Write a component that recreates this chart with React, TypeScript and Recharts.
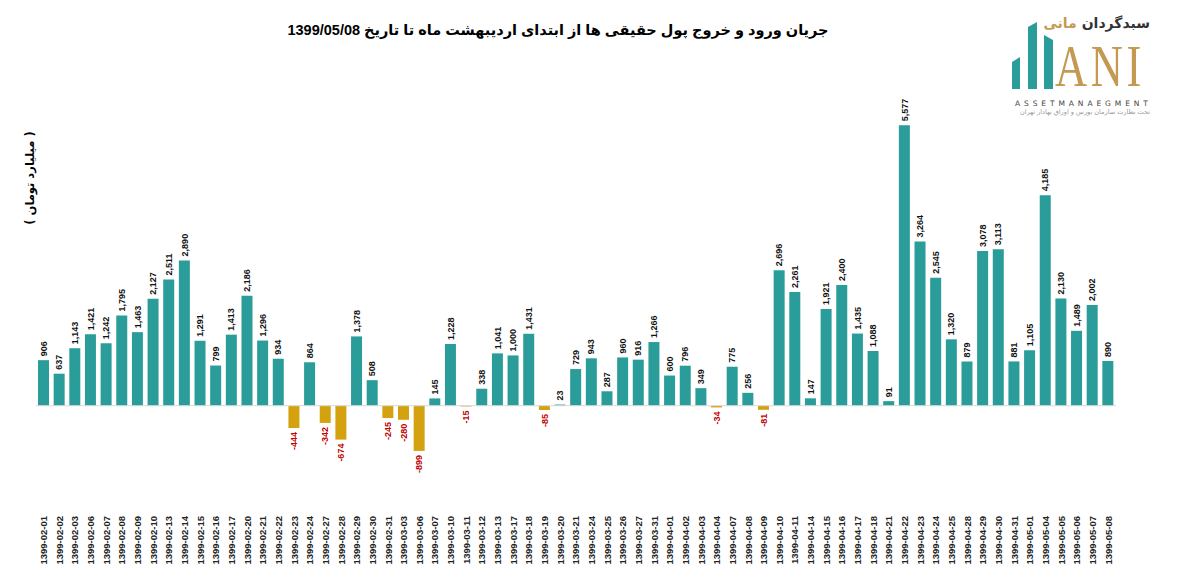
import { BarChart, Bar, XAxis, YAxis, Cell, LabelList, ReferenceLine } from 'recharts';

const dates = [
  '1399-02-01', '1399-02-02', '1399-02-03', '1399-02-06', '1399-02-07', '1399-02-08', '1399-02-09', '1399-02-10',
  '1399-02-13', '1399-02-14', '1399-02-15', '1399-02-16', '1399-02-17', '1399-02-20', '1399-02-21', '1399-02-22',
  '1399-02-23', '1399-02-24', '1399-02-27', '1399-02-28', '1399-02-29', '1399-02-30', '1399-02-31', '1399-03-03',
  '1399-03-06', '1399-03-07', '1399-03-10', '1399-03-11', '1399-03-12', '1399-03-13', '1399-03-17', '1399-03-18',
  '1399-03-19', '1399-03-20', '1399-03-21', '1399-03-24', '1399-03-25', '1399-03-26', '1399-03-27', '1399-03-31',
  '1399-04-01', '1399-04-02', '1399-04-03', '1399-04-04', '1399-04-07', '1399-04-08', '1399-04-09', '1399-04-10',
  '1399-04-11', '1399-04-14', '1399-04-15', '1399-04-16', '1399-04-17', '1399-04-18', '1399-04-21', '1399-04-22',
  '1399-04-23', '1399-04-24', '1399-04-25', '1399-04-28', '1399-04-29', '1399-04-30', '1399-04-31', '1399-05-01',
  '1399-05-04', '1399-05-05', '1399-05-06', '1399-05-07', '1399-05-08',
];

// net flow of individual money, billion toman
const flows = [
  906, 637, 1143, 1421, 1242, 1795, 1463, 2127,
  2511, 2890, 1291, 799, 1413, 2186, 1296, 934,
  -444, 864, -342, -674, 1378, 508, -245, -280,
  -899, 145, 1228, -15, 338, 1041, 1000, 1431,
  -85, 23, 729, 943, 287, 960, 916, 1266,
  600, 796, 349, -34, 775, 256, -81, 2696,
  2261, 147, 1921, 2400, 1435, 1088, 91, 5577,
  3264, 2545, 1320, 879, 3078, 3113, 881, 1105,
  4185, 2130, 1489, 2002, 890,
];

const TITLE = 'جریان ورود و خروج پول حقیقی ها از ابتدای اردیبهشت ماه تا تاریخ 1399/05/08';
const Y_LABEL = '( میلیارد تومان )';

const TEAL = '#2a9d9a';
const GOLD = '#d4a20f';
const RED = '#c00000';
const LOGO_GOLD = '#c49a52';

const data = dates.map((d, i) => ({ date: d, value: flows[i] }));

function DateTick(props: any) {
  const { x, y, payload } = props;
  return (
    <g transform={`translate(${x},${y + 52})`}>
      <text
        transform="rotate(-90)"
        textAnchor="end"
        dy="0.35em"
        fontSize={9.5}
        fontWeight="bold"
        fill="#222"
        fontFamily="'Liberation Sans', Arial, sans-serif"
      >
        {payload.value}
      </text>
    </g>
  );
}

function ValueLabel(props: any) {
  const x = Number(props.x);
  const y = Number(props.y);
  const w = Number(props.width);
  const h = Number(props.height);
  const v = Number(props.value);
  const cx = x + w / 2;
  const top = Math.min(y, y + h);
  const bottom = Math.max(y, y + h);
  const neg = v < 0;
  return (
    <g transform={`translate(${cx},${neg ? bottom + 4 : top - 4})`}>
      <text
        transform="rotate(-90)"
        textAnchor={neg ? 'end' : 'start'}
        dy="0.35em"
        fontSize={9}
        fontWeight="bold"
        fill={neg ? RED : '#111'}
        fontFamily="'Liberation Sans', Arial, sans-serif"
      >
        {v.toLocaleString('en-US')}
      </text>
    </g>
  );
}

function Logo() {
  const bar = (left: number, top: number, width: number, height: number, clip: string) => (
    <div style={{ position: 'absolute', left, top, width, height, background: TEAL, clipPath: clip }} />
  );
  return (
    <>
      {bar(1004, 49, 8, 32, 'polygon(0 5px, 100% 0, 100% 100%, 0 100%)')}
      {bar(1020, 14, 9, 67, 'polygon(0 5px, 100% 0, 100% 100%, 0 100%)')}
      {bar(1036, 27, 9, 54, 'polygon(0 0, 100% 5px, 100% 100%, 0 100%)')}
      <div
        style={{
          position: 'absolute', left: 1035, top: 7, width: 107, textAlign: 'right', direction: 'rtl',
          fontFamily: "'DejaVu Sans', sans-serif", fontSize: 14, lineHeight: '17px', fontWeight: 'bold',
          color: '#333', whiteSpace: 'nowrap',
        }}
      >
        سبدگردان <span style={{ color: LOGO_GOLD }}>مانی</span>
      </div>
      <div
        style={{
          position: 'absolute', left: 1047, top: 28, fontFamily: "'Liberation Serif', serif", fontSize: 60,
          lineHeight: '60px', color: LOGO_GOLD, letterSpacing: 5, whiteSpace: 'nowrap',
          transform: 'scaleX(0.74)', transformOrigin: 'left top',
        }}
      >
        ANI
      </div>
      <div
        style={{
          position: 'absolute', left: 1007, top: 91, fontFamily: "'DejaVu Sans', sans-serif", fontSize: 7.5,
          lineHeight: '9px', letterSpacing: 3.9, color: '#444', whiteSpace: 'nowrap',
        }}
      >
        ASSETMANAEGMENT
      </div>
      <div
        style={{
          position: 'absolute', left: 1004, top: 100, width: 138, textAlign: 'right', direction: 'rtl',
          fontFamily: "'DejaVu Sans', sans-serif", fontSize: 6.5, lineHeight: '8px', color: '#999',
          whiteSpace: 'nowrap',
        }}
      >
        تحت نظارت سازمان بورس و اوراق بهادار تهران
      </div>
    </>
  );
}

export default function App() {
  return (
    <div style={{ position: 'relative', width: 1163, height: 570, background: '#fff' }}>
      <BarChart
        width={1163}
        height={570}
        data={data}
        margin={{ top: 96, right: 55, bottom: 12, left: 28 }}
        barSize={11}
      >
        <YAxis hide domain={[-1000, 6000]} />
        <XAxis
          dataKey="date"
          interval={0}
          axisLine={false}
          tickLine={false}
          height={110}
          tick={<DateTick />}
        />
        <ReferenceLine y={0} stroke="#d9d9d9" strokeWidth={1} />
        <Bar dataKey="value" isAnimationActive={false}>
          {data.map((d) => (
            <Cell key={d.date} fill={d.value < 0 ? GOLD : TEAL} />
          ))}
          <LabelList dataKey="value" content={<ValueLabel />} />
        </Bar>
      </BarChart>
      <div
        style={{
          position: 'absolute', left: 0, width: 1100, top: 14, textAlign: 'center', direction: 'rtl',
          fontFamily: "'Liberation Sans', 'DejaVu Sans', sans-serif", fontSize: 14.5, fontWeight: 'bold', color: '#000',
        }}
      >
        {TITLE}
      </div>
      <div
        style={{
          position: 'absolute', left: 22 - 60, top: 163, width: 120, textAlign: 'center', direction: 'rtl',
          transform: 'rotate(-90deg)', fontFamily: "'DejaVu Sans', sans-serif", fontSize: 11.5, fontWeight: 'bold',
          whiteSpace: 'nowrap',
        }}
      >
        {Y_LABEL}
      </div>
      <Logo />
    </div>
  );
}
